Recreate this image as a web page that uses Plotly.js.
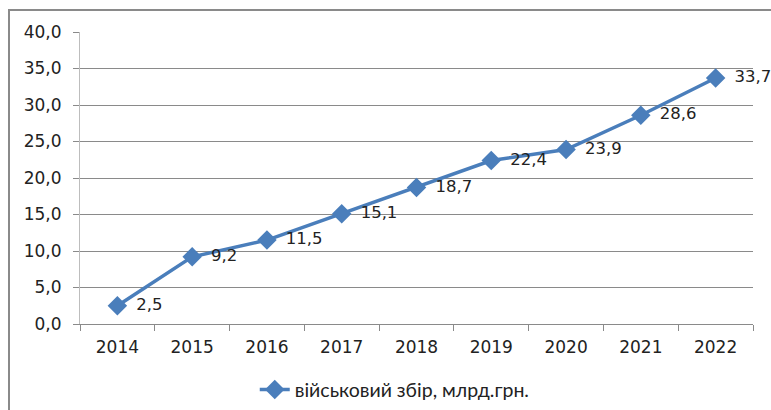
<!DOCTYPE html>
<html>
<head>
<meta charset="utf-8">
<script src="https://cdn.plot.ly/plotly-3.0.1.min.js"></script>
<style>
html,body{margin:0;padding:0;overflow:hidden;background:#fff;}
#wrap{position:relative;width:771px;height:410px;overflow:hidden;}
#chart{position:absolute;left:0;top:0;width:771px;height:410px;}
#frame{position:absolute;left:8px;top:9px;width:800px;height:450px;border:2px solid #8a8a8a;pointer-events:none;}
</style>
</head>
<body>
<div id="wrap"><div id="chart"></div><div id="frame"></div></div>
<script>
var years = ['2014','2015','2016','2017','2018','2019','2020','2021','2022'];
var values = [2.5, 9.2, 11.5, 15.1, 18.7, 22.4, 23.9, 28.6, 33.7];
var seriesName = 'військовий збір, млрд.грн.';
var labels = values.map(function(v){ return '\u00a0\u2009' + v.toFixed(1).replace('.', ','); });

var trace = {
  x: years, y: values, type: 'scatter', mode: 'lines+markers+text',
  name: seriesName,
  text: labels, textposition: 'middle right',
  textfont: {family: 'DejaVu Sans, Verdana, sans-serif', size: 16.5, color: '#222'},
  line: {color: '#4a7ebb', width: 3.5},
  marker: {symbol: 'diamond', size: 15, color: '#4a7ebb'},
  cliponaxis: false
};

var layout = {
  width: 771, height: 410,
  margin: {l: 80, r: 18, t: 32, b: 86, autoexpand: false},
  paper_bgcolor: '#fff', plot_bgcolor: '#fff',
  separators: ',.',
  font: {family: 'DejaVu Sans, Verdana, sans-serif', size: 17, color: '#222'},
  xaxis: {
    type: 'category', showgrid: false, range: [-0.5, years.length - 0.5], autorange: false,
    showline: true, linecolor: '#8a8a8a', linewidth: 1,
    ticks: 'outside', tickson: 'boundaries', ticklen: 6, tickcolor: '#8a8a8a',
    ticklabelstandoff: 8,
    tickfont: {size: 17}, fixedrange: true
  },
  yaxis: {
    range: [0, 40], dtick: 5, tickformat: '.1f',
    showgrid: true, gridcolor: '#8a8a8a', gridwidth: 1,
    showline: true, linecolor: '#bdbdbd', linewidth: 1,
    ticks: 'outside', ticklen: 6, tickcolor: '#8a8a8a',
    ticklabelstandoff: 8,
    zeroline: false, tickfont: {size: 17}, fixedrange: true
  },
  showlegend: true,
  legend: {
    orientation: 'h', xref: 'container', yref: 'container',
    x: 0.512, xanchor: 'center', y: 0.049, yanchor: 'middle',
    font: {family: 'Lato, Calibri, sans-serif', size: 19.5, color: '#222'}
  }
};

Plotly.newPlot('chart', [trace], layout, {displayModeBar: false, staticPlot: true});
</script>
</body>
</html>
